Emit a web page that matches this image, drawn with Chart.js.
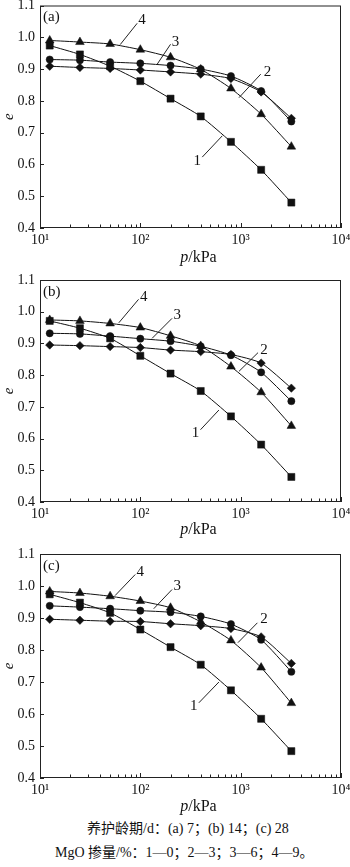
<!DOCTYPE html>
<html>
<head>
<meta charset="utf-8">
<script src="https://cdn.jsdelivr.net/npm/chart.js@4.4.0/dist/chart.umd.min.js"></script>
<style>
  body { margin: 0; background: #fff; width: 350px; height: 867px; overflow: hidden; position: relative; }
  .panel { position: absolute; left: 0; width: 350px; }
  .cap { position: absolute; white-space: nowrap; font-family: "Liberation Serif", "Noto Sans CJK SC", serif; font-size: 14px; line-height: 16px; color: #111; }
</style>
</head>
<body>
<div class="panel" style="top:0px;height:270px"><canvas id="chartA" width="350" height="270"></canvas></div>
<div class="panel" style="top:270px;height:270px"><canvas id="chartB" width="350" height="270"></canvas></div>
<div class="panel" style="top:540px;height:278px"><canvas id="chartC" width="350" height="278"></canvas></div>
<div class="cap" style="top:821px;left:87px">养护龄期/d：(a) 7；(b) 14；(c) 28</div>
<div class="cap" style="top:845px;left:55px">MgO 掺量/%：1—0；2—3；3—6；4—9。</div>
<script>
/* consolidation pressure p (kPa), same load steps for every curve */
var pressure = [12.5, 25, 50, 100, 200, 400, 800, 1600, 3200];

/* void ratio e, curing 7 d ; curve number = MgO content 0,3,6,9 % */
var eA1 = [0.974, 0.946, 0.909, 0.862, 0.807, 0.751, 0.671, 0.583, 0.480];
var eA2 = [0.909, 0.905, 0.902, 0.897, 0.891, 0.884, 0.870, 0.828, 0.745];
var eA3 = [0.930, 0.928, 0.922, 0.918, 0.911, 0.900, 0.878, 0.831, 0.735];
var eA4 = [0.990, 0.985, 0.979, 0.961, 0.937, 0.899, 0.839, 0.758, 0.656];

/* curing 14 d */
var eB1 = [0.971, 0.948, 0.916, 0.861, 0.805, 0.750, 0.670, 0.581, 0.479];
var eB2 = [0.895, 0.893, 0.890, 0.887, 0.879, 0.874, 0.865, 0.838, 0.759];
var eB3 = [0.932, 0.930, 0.923, 0.915, 0.907, 0.891, 0.863, 0.809, 0.718];
var eB4 = [0.974, 0.971, 0.963, 0.950, 0.924, 0.892, 0.827, 0.746, 0.640];

/* curing 28 d */
var eC1 = [0.974, 0.948, 0.916, 0.864, 0.809, 0.754, 0.674, 0.585, 0.484];
var eC2 = [0.896, 0.893, 0.890, 0.889, 0.882, 0.876, 0.867, 0.841, 0.758];
var eC3 = [0.938, 0.934, 0.929, 0.923, 0.918, 0.905, 0.881, 0.832, 0.732];
var eC4 = [0.983, 0.978, 0.968, 0.953, 0.932, 0.888, 0.830, 0.745, 0.634];

/* axis ticks */
var eTicks = [0.4, 0.5, 0.6, 0.7, 0.8, 0.9, 1.0, 1.1];
var pMajor = [10, 100, 1000, 10000];
var pMajorLabels = ['10\u00B9', '10\u00B2', '10\u00B3', '10\u2074'];
var curveNames = ['1', '2', '3', '4'];

/* the numbered callouts, in data units: label at (tx,ty), leader from (x1,y1) to (x2,y2) */
var notesA = [
  {t: '4', tx: 104, ty: 1.055, x1: 93, y1: 1.044, x2: 63, y2: 0.977},
  {t: '3', tx: 224, ty: 0.985, x1: 200, y1: 0.978, x2: 147, y2: 0.915},
  {t: '2', tx: 1849, ty: 0.892, x1: 1585, y1: 0.884, x2: 962, y2: 0.810},
  {t: '1', tx: 369, ty: 0.612, x1: 414, y1: 0.623, x2: 656, y2: 0.690}
];
var notesB = [
  {t: '4', tx: 108, ty: 1.047, x1: 96, y1: 1.039, x2: 61, y2: 0.965},
  {t: '3', tx: 233, ty: 0.989, x1: 207, y1: 0.979, x2: 131, y2: 0.916},
  {t: '2', tx: 1711, ty: 0.879, x1: 1490, y1: 0.871, x2: 962, y2: 0.812},
  {t: '1', tx: 355, ty: 0.618, x1: 398, y1: 0.628, x2: 607, y2: 0.690}
];
var notesC = [
  {t: '4', tx: 100, ty: 1.044, x1: 89, y1: 1.036, x2: 56, y2: 0.970},
  {t: '3', tx: 233, ty: 0.999, x1: 207, y1: 0.989, x2: 136, y2: 0.929},
  {t: '2', tx: 1711, ty: 0.896, x1: 1468, y1: 0.885, x2: 940, y2: 0.823},
  {t: '1', tx: 341, ty: 0.625, x1: 383, y1: 0.635, x2: 607, y2: 0.700}
];

var serif = '"Liberation Serif", "Times New Roman", serif';
var markers = ['rect', 'rectRot', 'circle', 'triangle'];
var markerSize = [5, 4.2, 3.6, 5];

// minor tick positions for the log axis, 1..9 per decade
function logTickValues() {
  var v = [];
  for (var d = 10; d < 10000; d *= 10) {
    for (var k = 1; k < 10; k++) v.push(k * d);
  }
  v.push(10000);
  return v;
}

// frame, inward ticks, panel letter, p/kPa title and the callouts
var decorate = {
  id: 'decorate',
  afterDraw: function(chart) {
    var ctx = chart.ctx, a = chart.chartArea;
    var xs = chart.scales.x, ys = chart.scales.y;
    var o = chart.options.plugins.decorate;
    ctx.save();
    ctx.strokeStyle = '#222';
    ctx.lineWidth = 1;
    ctx.strokeRect(a.left + 0.5, a.top + 0.5, a.right - a.left - 1, a.bottom - a.top - 1);

    ctx.beginPath();
    xs.ticks.forEach(function(t) {
      var px = Math.round(xs.getPixelForValue(t.value)) + 0.5;
      var len = pMajor.indexOf(t.value) >= 0 ? 5 : 3.5;
      ctx.moveTo(px, a.bottom);
      ctx.lineTo(px, a.bottom - len);
    });
    ys.ticks.forEach(function(t) {
      var py = Math.round(ys.getPixelForValue(t.value)) + 0.5;
      ctx.moveTo(a.left, py);
      ctx.lineTo(a.left + 4, py);
    });
    ctx.stroke();

    ctx.fillStyle = '#111';
    ctx.textBaseline = 'middle';
    ctx.textAlign = 'left';
    ctx.font = '15px ' + serif;
    ctx.fillText(o.letter, a.left + 3, a.top + 12);

    // x title: italic p, upright /kPa
    ctx.font = 'italic 16px ' + serif;
    var w1 = ctx.measureText('p').width;
    ctx.font = '16px ' + serif;
    var w2 = ctx.measureText('/kPa').width;
    var cx = (a.left + a.right) / 2 + 8;
    var ty = a.bottom + o.titleOffset;
    ctx.font = 'italic 16px ' + serif;
    ctx.fillText('p', cx - (w1 + w2) / 2, ty);
    ctx.font = '16px ' + serif;
    ctx.fillText('/kPa', cx - (w1 + w2) / 2 + w1, ty);

    // numbered leaders
    ctx.font = '15px ' + serif;
    ctx.textAlign = 'center';
    ctx.beginPath();
    o.notes.forEach(function(n) {
      ctx.moveTo(xs.getPixelForValue(n.x1), ys.getPixelForValue(n.y1));
      ctx.lineTo(xs.getPixelForValue(n.x2), ys.getPixelForValue(n.y2));
    });
    ctx.stroke();
    o.notes.forEach(function(n) {
      ctx.fillText(n.t, xs.getPixelForValue(n.tx), ys.getPixelForValue(n.ty));
    });
    ctx.restore();
  }
};

function makePanel(id, series, letter, notes, box) {
  var canvas = document.getElementById(id);
  var datasets = series.map(function(vals, i) {
    return {
      label: curveNames[i],
      data: pressure.map(function(p, j) { return {x: p, y: vals[j]}; }),
      borderColor: '#111',
      backgroundColor: '#111',
      borderWidth: 1,
      tension: 0.2,
      pointStyle: markers[i],
      pointRadius: markerSize[i],
      pointBackgroundColor: '#111',
      pointBorderColor: '#111',
      pointBorderWidth: 0.5,
      clip: false
    };
  });

  return new Chart(canvas.getContext('2d'), {
    type: 'line',
    data: {datasets: datasets},
    plugins: [decorate],
    options: {
      responsive: false,
      animation: false,
      events: [],
      layout: {padding: {top: box.top, right: 9, left: 0, bottom: 0}},
      plugins: {
        legend: {display: false},
        tooltip: {enabled: false},
        decorate: {letter: letter, notes: notes, titleOffset: box.titleOffset}
      },
      scales: {
        x: {
          type: 'logarithmic',
          min: 10,
          max: 10000,
          border: {display: false},
          grid: {display: false, drawTicks: false},
          afterBuildTicks: function(scale) {
            scale.ticks = logTickValues().map(function(v) {
              return {value: v, major: pMajor.indexOf(v) >= 0};
            });
          },
          ticks: {
            autoSkip: false,
            maxRotation: 0,
            padding: box.labelPad,
            color: '#111',
            font: {family: serif, size: 14},
            callback: function(v) {
              var k = pMajor.indexOf(v);
              return k >= 0 ? pMajorLabels[k] : '';
            }
          },
          afterFit: function(scale) {
            scale.height = canvas.height - box.bottom;
            scale.paddingLeft = 0;
            scale.paddingRight = 0;
          }
        },
        y: {
          min: 0.4,
          max: 1.1,
          border: {display: false},
          grid: {display: false, drawTicks: false},
          afterBuildTicks: function(scale) {
            scale.ticks = eTicks.map(function(v) { return {value: v}; });
          },
          ticks: {
            padding: 5,
            color: '#111',
            font: {family: serif, size: 14},
            callback: function(v) { return v.toFixed(1); }
          },
          title: {
            display: true,
            text: 'e',
            color: '#111',
            padding: {top: 0, bottom: 0},
            font: {family: serif, size: 15, style: 'italic'}
          },
          afterFit: function(scale) {
            scale.width = 40;
            scale.paddingTop = 0;
            scale.paddingBottom = 0;
          }
        }
      }
    }
  });
}

makePanel('chartA', [eA1, eA2, eA3, eA4], '(a)', notesA, {top: 4, bottom: 228, labelPad: 4, titleOffset: 30});
makePanel('chartB', [eB1, eB2, eB3, eB4], '(b)', notesB, {top: 10, bottom: 232, labelPad: 4, titleOffset: 28});
makePanel('chartC', [eC1, eC2, eC3, eC4], '(c)', notesC, {top: 14, bottom: 238, labelPad: 4, titleOffset: 29});
</script>
</body>
</html>
